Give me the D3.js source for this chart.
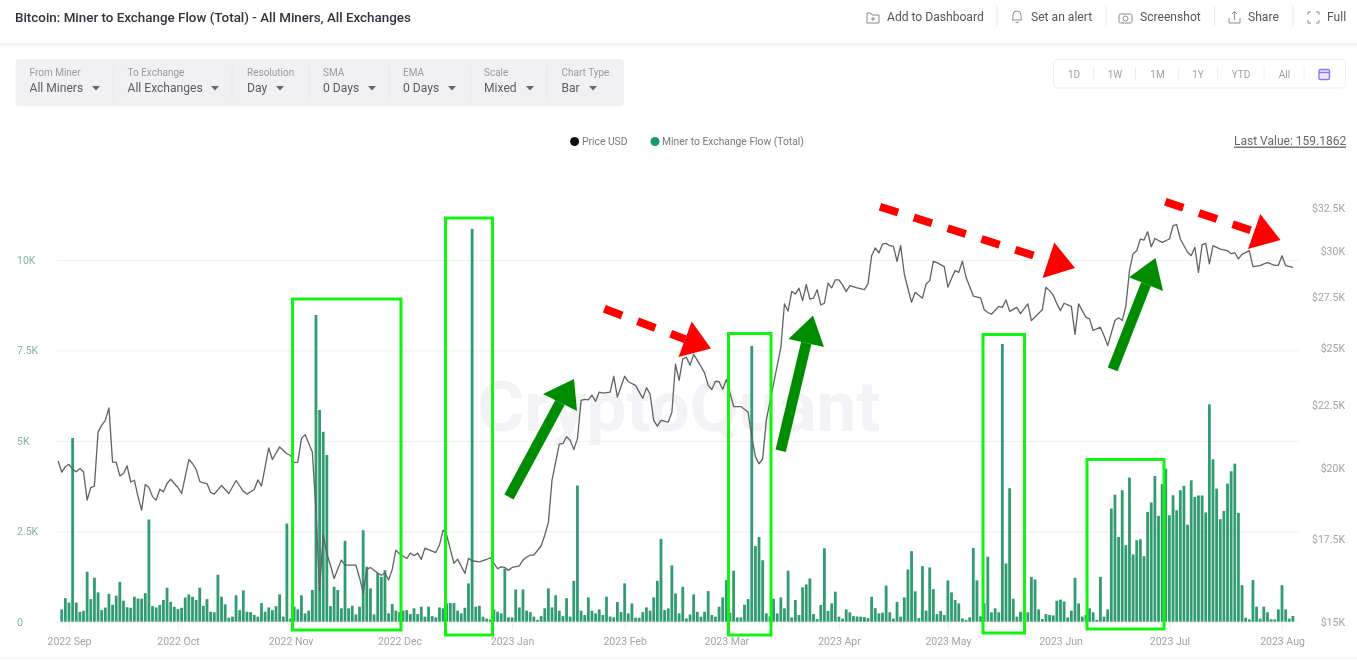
<!DOCTYPE html>
<html><head><meta charset="utf-8">
<script src="https://cdn.jsdelivr.net/npm/d3@7"></script>
<style>
html,body{margin:0;padding:0;background:#fff;overflow:hidden}
svg{display:block;font-family:Roboto,sans-serif;filter:blur(.5px)}
</style></head><body><svg id="c" width="1357" height="660"></svg>
<script>
const titleText="Bitcoin: Miner to Exchange Flow (Total) - All Miners, All Exchanges";
const actionLabels=["Add to Dashboard","Set an alert","Screenshot","Share","Full"];
const filterLabels=["From Miner","To Exchange","Resolution","SMA","EMA","Scale","Chart Type"];
const filterValues=["All Miners","All Exchanges","Day","0 Days","0 Days","Mixed","Bar"];
const rangeLabels=["1D","1W","1M","1Y","YTD","All"];
const seriesNames=["Price USD","Miner to Exchange Flow (Total)"];
const lastValueText="Last Value: 159.1862";
const flowTicks=[0,2500,5000,7500,10000];
const flowTickLabels=["0","2.5K","5K","7.5K","10K"];
const priceTicks=[15000,17500,20000,22500,25000,27500,30000,32500];
const priceTickLabels=["$15K","$17.5K","$20K","$22.5K","$25K","$27.5K","$30K","$32.5K"];
const monthTicks=["2022-09-01","2022-10-01","2022-11-01","2022-12-01","2023-01-01","2023-02-01","2023-03-01","2023-04-01","2023-05-01","2023-06-01","2023-07-01","2023-08-01"];
const firstDay="2022-08-30";
// daily miner-to-exchange flow, from firstDay onward
const flowValues=[
340,650,530,5080,530,270,300,1380,625,1215,
810,320,390,770,470,720,1100,580,400,385,
690,640,635,790,2825,430,395,460,600,940,
550,415,350,385,670,755,690,600,940,440,
625,275,260,1300,690,480,110,140,730,320,
865,275,265,185,140,515,275,395,320,430,
755,140,2715,90,415,340,730,230,305,875,
8480,5855,5250,4610,430,965,875,370,2235,370,
440,200,415,2530,1520,920,200,1350,1240,1425,
230,490,305,265,305,320,210,370,210,415,
140,415,155,120,395,370,505,515,515,305,
230,385,1060,10860,415,440,140,85,60,340,
275,230,1470,120,120,890,395,890,305,265,
140,50,155,370,920,395,730,305,155,650,
140,1130,3765,305,185,670,305,230,340,185,
690,140,120,545,265,1060,230,505,110,110,
265,395,305,670,1130,2290,320,370,1555,780,
230,965,90,200,755,275,140,275,845,185,
140,415,670,1150,250,1410,120,120,470,625,
7625,2090,2340,1700,230,150,635,230,670,370,
1410,120,600,185,950,1030,1195,210,75,460,
2030,295,505,830,140,85,340,260,155,145,
140,130,100,690,375,230,250,1000,260,85,
550,140,670,1445,1950,840,100,1535,305,1500,
900,210,295,185,1140,810,600,505,90,50,
120,2040,1140,150,505,1795,260,370,260,7680,
1610,3690,635,140,275,275,260,1240,1170,340,
75,210,185,175,580,610,560,120,305,1215,
505,140,185,370,260,50,1240,140,340,3130,
3510,2345,3635,2115,3985,1860,2255,2280,1810,3035,
3295,4030,2925,3800,4230,2945,3495,3080,3635,3755,
2685,3910,3450,3490,3490,3020,6010,4490,3680,2835,
3065,3820,4160,4370,3010,1010,110,65,1150,415,
85,415,260,65,65,340,1010,340,85,159];
// price readings: day offset from firstDay, and price in USD
const priceDays=[-1,0,1,2,3,4,5,6,7,8,9,10,11,12,13,14,15,16,17,18,19,20,21,22,23,24,25,26,27,28,29,30,31,32,33,35,36,37,38,39,40,41,42,44,46,48,50,51,53,54,55,57,58,60,62,63,64,65,66,67,69,70,71,72,73,74,75,76,77,78,81,82,83,84,85,87,88,89,90,91,92,93,95,96,97,98,99,100,102,103,104,105,106,108,109,111,112,113,115,117,118,120,121,122,123,124,126,127,128,129,130,131,132,133,134,135,137,138,139,140,141,142,143,144,145,146,147,148,149,151,152,153,155,156,158,160,161,162,163,164,165,167,168,169,170,171,172,173,174,176,177,178,179,180,181,182,183,185,186,187,188,189,190,191,192,193,194,197,198,199,200,201,202,203,204,205,206,207,208,209,210,211,212,213,214,215,216,217,219,221,222,223,224,225,226,227,228,229,230,231,232,233,234,235,237,238,239,240,241,242,243,244,245,246,247,248,249,250,251,253,254,255,256,258,259,260,261,263,264,266,267,270,271,272,273,274,275,276,278,279,280,281,282,283,284,286,287,288,290,291,292,293,294,295,296,297,298,299,300,301,303,305,306,307,308,310,311,312,313,314,315,316,317,319,321,322,323,324,325,327,328,330,331,332,334,335,336,337,339];
const priceValues=[20255,19835,20040,20130,19940,19850,19970,19850,18825,19275,19325,21380,21650,21855,22370,20210,20200,19700,19790,20070,19475,19540,18950,18475,19385,19275,18950,18825,19215,19120,19420,19575,19420,19275,19060,20310,20160,19945,19500,19440,19420,19100,19040,19350,19060,19530,19140,19040,19205,19550,19330,20755,20310,20795,20530,20465,20190,20210,21120,21280,20600,18475,15890,17650,17030,16670,16260,16555,16830,16670,16670,16285,15820,16540,16600,16430,16360,16430,16215,16540,17147,17030,16880,17050,16970,17050,16850,17210,17115,17070,17310,17800,17630,16730,16860,16420,16885,16810,16775,16850,16905,16560,16620,16600,16510,16600,16650,16830,16920,16990,16990,17135,17280,17630,18060,19540,20900,20930,21195,21055,20690,21120,22685,22730,22710,22905,22645,23040,22995,23040,23730,22825,23730,23490,23330,22770,23230,22950,21855,21620,21855,21785,22190,24270,23545,24515,24590,24225,24720,24170,23880,23330,23150,23510,23490,23160,23590,22425,22425,22425,22310,22190,21180,20420,20150,20340,21855,24210,25020,27170,26800,27810,27670,27980,27335,28170,27410,27460,27900,27115,27200,28235,27990,28415,28415,28150,27800,28110,27990,27900,28200,29730,30160,29880,30380,30420,30290,30250,29420,30290,28730,27960,27250,27760,27460,28200,28375,29420,29345,29240,29130,28030,28490,28910,28815,29420,28550,28060,27570,27480,26880,26735,26650,27040,26990,27370,26790,26990,26680,27170,26335,26870,28030,27850,27620,27180,26830,27200,27040,25660,27170,26830,26500,26420,25850,26010,25600,25130,26335,26470,26335,27040,28910,29840,30010,30670,30610,31090,30230,30700,30475,30670,31440,31500,30670,29920,29730,30200,28815,30340,30420,29280,30290,30100,30010,29840,29890,29550,29800,30010,29130,29180,29280,29340,29200,29200,29730,29180,29085];
// hand-drawn overlays on the screenshot
const highlightBoxes=[[292.5,299,401,630],[445.5,218,492.5,635],[728.5,333.5,771,635],[983,334.5,1024.5,633],[1087,459.5,1164,629]];
const upArrows=[[509,497,574,379,543,394,577,411],[780.7,450.7,813,315.5,788.5,339,824,347],[1112.7,369.3,1155.5,258,1129,277.3,1163,291]];
const downArrows=[[604.3,308.7,711,348.5,691.7,321.5,678.5,357],[880,206.7,1075,268,1054.3,242.5,1042.5,278],[1165.3,201.7,1280.5,240,1260.3,214,1248,249]];

const parse=d3.utcParse("%Y-%m-%d");
const start=parse(firstDay);
const dayAt=i=>d3.utcDay.offset(start,i);
const svg=d3.select("#c");
const x=d3.scaleUtc().domain([parse("2022-09-01"),parse("2023-08-01")]).range([69,1282]);
const yFlow=d3.scaleLinear().domain([0,10000]).range([621.7,260]);
const yPrice=d3.scaleLog().domain([15000,32500]).range([621.7,208]);
const L=57,R=1298.5,barW=2.8;

/* header */
svg.append("text").attr("x",15).attr("y",21.5).attr("font-size",13.4).attr("font-weight",500).attr("fill","#33333d").text(titleText);
svg.append("rect").attr("x",0).attr("y",43).attr("width",1357).attr("height",2.5).attr("fill","#f1f1f3");
const actionX=[887,1031,1140,1248,1327],actionSep=[997,1106,1214.5,1293];
svg.selectAll(".act").data(actionLabels).join("text").attr("x",(d,i)=>actionX[i]).attr("y",21).attr("font-size",12.1).attr("fill","#55555f").text(d=>d);
actionSep.forEach(s=>svg.append("line").attr("x1",s).attr("x2",s).attr("y1",6).attr("y2",26).attr("stroke","#e8e8ee"));
const ic=svg.append("g").attr("fill","none").attr("stroke","#8a8a92").attr("stroke-width",1);
ic.append("path").attr("d","M867 13h4l1 2h7v8h-12zM873 17v4M871 19h4");
ic.append("path").attr("d","M1012 20c1-1 1-2 1-5a4 4 0 0 1 8 0c0 3 0 4 1 5zM1015.500 22.500h3");
ic.append("rect").attr("x",1119).attr("y",14).attr("width",13).attr("height",9).attr("rx",1.5);
ic.append("circle").attr("cx",1125.5).attr("cy",18.5).attr("r",2.5);
ic.append("path").attr("d","M1229 18v5h11v-5M1234.500 20v-8M1232 14l2.500-2.500l2.500 2.500");
ic.append("path").attr("d","M1308 15v-3h3M1316 12h3v3M1319 20v3h-3M1311 23h-3v-3");

/* filter panel */
svg.append("rect").attr("x",15.5).attr("y",59).attr("width",608.500).attr("height",47).attr("rx",4).attr("fill","#f1f1f4");
const fx=[29.500,127.500,247,323,403,484,561.500],fa=[96,215,280,372,452,530,593],fd=[113.500,232,309,389,470.500,547];
svg.selectAll(".fl").data(filterLabels).join("text").attr("x",(d,i)=>fx[i]).attr("y",76).attr("font-size",10).attr("fill","#9a9aa2").text(d=>d);
svg.selectAll(".fv").data(filterValues).join("text").attr("x",(d,i)=>fx[i]).attr("y",92).attr("font-size",12.100).attr("fill","#5c5c66").text(d=>d);
fa.forEach(a=>svg.append("path").attr("d",`M${a-4} 86h8l-4 4.500z`).attr("fill","#66666e"));
fd.forEach(a=>svg.append("line").attr("x1",a).attr("x2",a).attr("y1",66).attr("y2",100).attr("stroke","#e8e8ec"));

/* range picker */
svg.append("rect").attr("x",1053.500).attr("y",59.500).attr("width",292).attr("height",28.500).attr("rx",4).attr("fill","#fff").attr("stroke","#eeeef2");
const rx=[1074,1115,1157.500,1198,1241,1284.500],rd=[1093.600,1135.500,1178.700,1217.600,1264,1304];
svg.selectAll(".rl").data(rangeLabels).join("text").attr("x",(d,i)=>rx[i]).attr("y",77.500).attr("text-anchor","middle").attr("font-size",10).attr("fill","#a0a0a8").text(d=>d);
rd.forEach(a=>svg.append("line").attr("x1",a).attr("x2",a).attr("y1",67).attr("y2",81).attr("stroke","#eeeef2"));
svg.append("rect").attr("x",1319).attr("y",69.500).attr("width",10.500).attr("height",10).attr("rx",1.500).attr("fill","#ece8ff").attr("stroke","#8d79e8").attr("stroke-width",1.400);
svg.append("path").attr("d","M1319 72.500h10.500").attr("stroke","#8d79e8").attr("stroke-width",1.500);

/* legend */
svg.append("circle").attr("cx",574.600).attr("cy",141.500).attr("r",4.500).attr("fill","#111");
svg.append("text").attr("x",582).attr("y",145).attr("font-size",10.300).attr("fill","#77777f").text(seriesNames[0]);
svg.append("circle").attr("cx",655).attr("cy",141.500).attr("r",4.500).attr("fill","#169a63");
svg.append("text").attr("x",662).attr("y",145).attr("font-size",10.300).attr("fill","#77777f").text(seriesNames[1]);
svg.append("text").attr("x",1234).attr("y",145).attr("font-size",12).attr("fill","#66666e").text(lastValueText);
svg.append("rect").attr("x",1234).attr("y",146.500).attr("width",112).attr("height",1.500).attr("fill","#77777f");

/* watermark */
svg.append("text").attr("x",679).attr("y",431).attr("text-anchor","middle").attr("font-size",71).attr("font-weight",700).attr("fill","#f2f2f7").text("CryptoQuant");

/* axes */
const gridG=svg.append("g").attr("transform",`translate(${L},0)`).call(d3.axisLeft(yFlow).tickValues(flowTicks).tickSize(-(R-L)).tickFormat((d,i)=>flowTickLabels[i]));
gridG.select(".domain").remove();
gridG.selectAll(".tick line").attr("stroke","#f0f0f2");
gridG.selectAll(".tick text").attr("x",-40).attr("text-anchor","start").attr("font-size",10.500).attr("font-family","Roboto").attr("fill","#82b5a5");
const rightG=svg.append("g").attr("transform","translate(1345,0)").call(d3.axisRight(yPrice).tickValues(priceTicks).tickSize(0).tickFormat((d,i)=>priceTickLabels[i]));
rightG.select(".domain").remove();
rightG.selectAll(".tick text").attr("x",0).attr("text-anchor","end").attr("font-size",10.500).attr("font-family","Roboto").attr("fill","#a2a2aa");
const botG=svg.append("g").attr("transform","translate(0,622)").call(d3.axisBottom(x).tickValues(monthTicks.map(parse)).tickSize(8).tickFormat(d3.utcFormat("%Y %b")));
botG.select(".domain").remove();
botG.selectAll(".tick line").attr("stroke","#eeeef0");
botG.selectAll(".tick text").attr("y",16).attr("font-size",10.500).attr("font-family","Roboto").attr("fill","#a2a2aa");
svg.append("line").attr("x1",0).attr("x2",1357).attr("y1",658.500).attr("y2",658.500).attr("stroke","#f5f5f7");

/* bars and line */
svg.append("g").selectAll("rect").data(flowValues).join("rect")
 .attr("x",(d,i)=>x(dayAt(i))-barW/2).attr("width",barW)
 .attr("y",d=>yFlow(d)).attr("height",d=>yFlow(0)-yFlow(d))
 .attr("fill","#1c9162").attr("fill-opacity",.9);
const priceLine=d3.line().x(d=>x(dayAt(d[0]))).y(d=>yPrice(d[1]));
svg.append("path").datum(d3.zip(priceDays,priceValues)).attr("d",priceLine).attr("fill","none").attr("stroke","#626266").attr("stroke-width",1.300).attr("stroke-linejoin","round");

/* overlays */
svg.append("g").selectAll("rect").data(highlightBoxes).join("rect")
 .attr("x",d=>d[0]).attr("y",d=>d[1]).attr("width",d=>d[2]-d[0]).attr("height",d=>d[3]-d[1])
 .attr("fill","none").attr("stroke","#11f511").attr("stroke-width",3);
upArrows.forEach(a=>{
 svg.append("line").attr("x1",a[0]).attr("y1",a[1]).attr("x2",(a[4]+a[6])/2).attr("y2",(a[5]+a[7])/2).attr("stroke","#008c00").attr("stroke-width",10.500);
 svg.append("polygon").attr("points",`${a[2]},${a[3]} ${a[4]},${a[5]} ${a[6]},${a[7]}`).attr("fill","#008c00");
});
downArrows.forEach(a=>{
 svg.append("line").attr("x1",a[0]).attr("y1",a[1]).attr("x2",(a[4]+a[6])/2).attr("y2",(a[5]+a[7])/2).attr("stroke","#fe0000").attr("stroke-width",8).attr("stroke-dasharray","19 16.5");
 svg.append("polygon").attr("points",`${a[2]},${a[3]} ${a[4]},${a[5]} ${a[6]},${a[7]}`).attr("fill","#fe0000");
});
</script></body></html>
